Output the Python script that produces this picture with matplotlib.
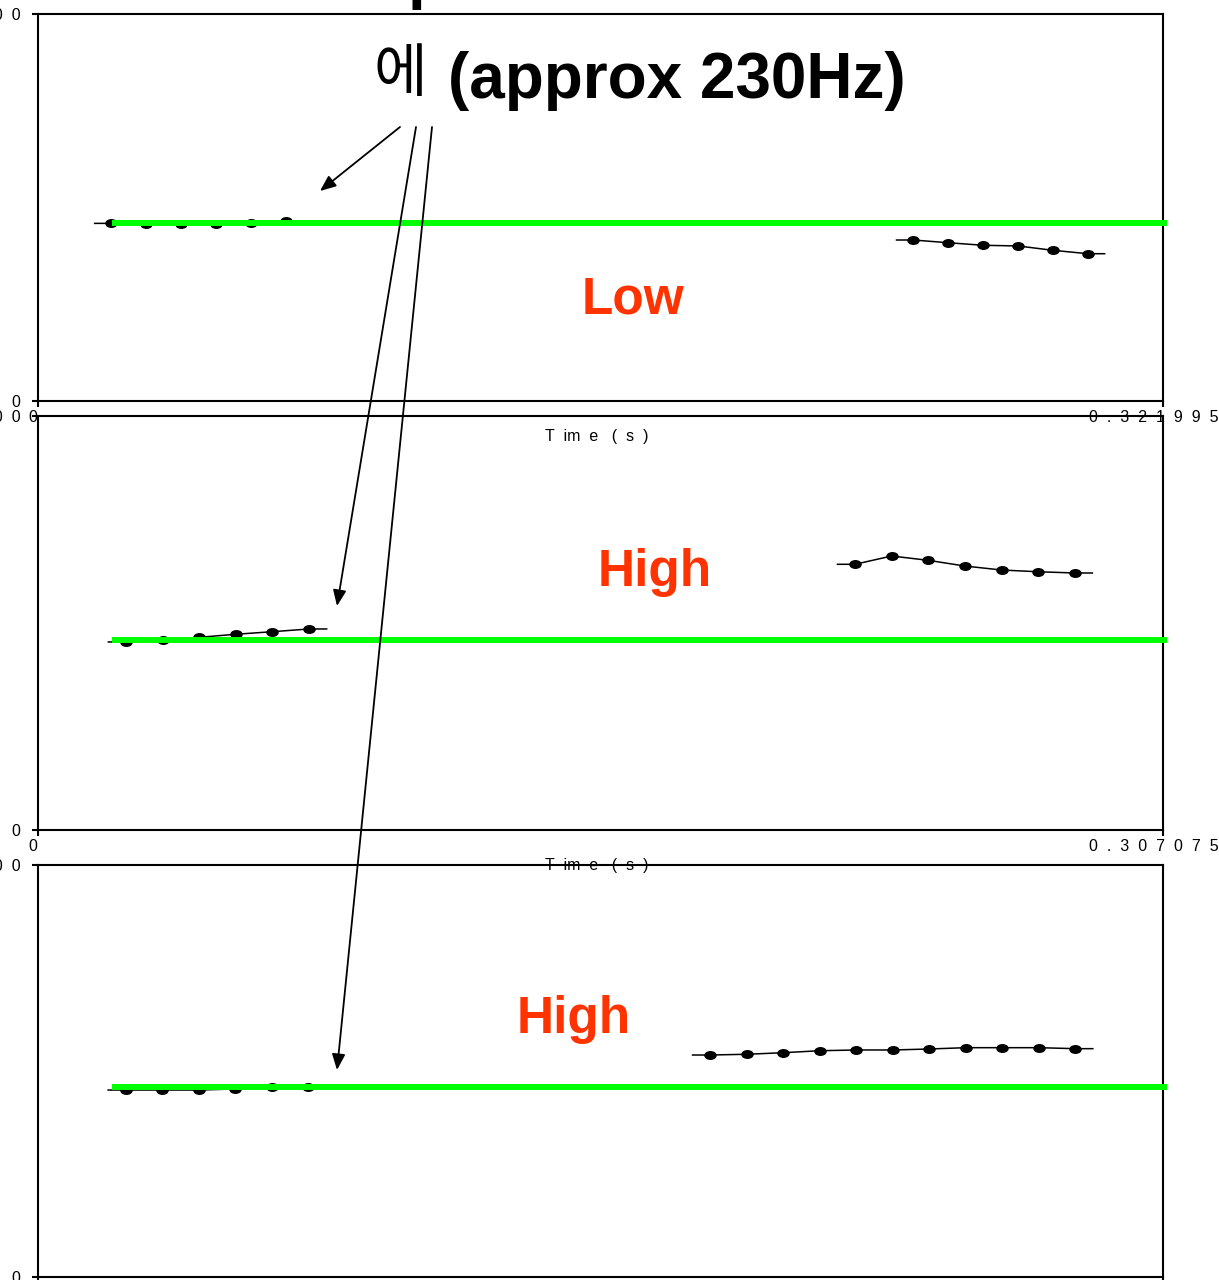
import matplotlib
matplotlib.use("Agg")
import matplotlib.pyplot as plt
from matplotlib.path import Path
from matplotlib.transforms import Affine2D, blended_transform_factory

# ---------------- data ----------------
PANEL_XMAX = [0.321995, 0.307075, 0.308]
PANEL_XMAX_LABELS = ["0.321995", "0.307075", "0.308"]
Y_MIN, Y_MAX = 0, 500
REFERENCE_HZ = 230
PANEL_TAGS = ["Low", "High", "High"]

P1_LEFT_T = [0.021, 0.031, 0.041, 0.051, 0.061, 0.071]
P1_LEFT_F = [229.5, 229.3, 229.3, 229.3, 229.5, 232.5]
P1_RIGHT_T = [0.2505, 0.2605, 0.2705, 0.2805, 0.2905, 0.3005]
P1_RIGHT_F = [208.0, 204.5, 201.2, 200.3, 194.7, 190.3]

P2_LEFT_T = [0.024, 0.034, 0.044, 0.054, 0.064, 0.074]
P2_LEFT_F = [227.1, 228.9, 232.7, 236.4, 239.5, 242.8]
P2_RIGHT_T = [0.223, 0.233, 0.243, 0.253, 0.263, 0.273, 0.283]
P2_RIGHT_F = [320.9, 330.9, 325.7, 318.8, 314.0, 311.9, 310.4]

P3_LEFT_T = [0.024, 0.034, 0.044, 0.054, 0.064, 0.074]
P3_LEFT_F = [226.9, 226.9, 226.9, 228.2, 230.8, 230.8]
P3_RIGHT_T = [0.184, 0.194, 0.204, 0.214, 0.224, 0.234, 0.244, 0.254, 0.264, 0.274, 0.284]
P3_RIGHT_F = [269.4, 270.3, 272.2, 274.6, 275.5, 275.5, 276.7, 278.3, 278.3, 278.3, 277.1]

SEGMENTS = [
    [(P1_LEFT_T, P1_LEFT_F), (P1_RIGHT_T, P1_RIGHT_F)],
    [(P2_LEFT_T, P2_LEFT_F), (P2_RIGHT_T, P2_RIGHT_F)],
    [(P3_LEFT_T, P3_LEFT_F), (P3_RIGHT_T, P3_RIGHT_F)],
]

# ---------------- style / layout ----------------
W, H = 1219, 1280
LATIN = "Liberation Sans"
KOREAN = "Noto Sans CJK KR"
GREEN = "#00ff00"
RED = "#ff3300"
HALF_FRAME = 0.005
# panel pixel boxes: (left, top, right, bottom)
BOXES = [(38, 14, 1163, 401), (38, 416, 1163, 830), (38, 865, 1163, 1277)]
TAG_POS = [(0.529, 0.261), (0.548, 0.623), (0.476, 0.624)]

plt.rcParams["font.family"] = [LATIN, "DejaVu Sans"]

fig = plt.figure(figsize=(W / 100, H / 100), dpi=100)


def spaced(s):
    return "  ".join(list(s))


ellipse = Path.unit_circle().transformed(Affine2D().scale(1.0, 0.68))

for i, (l, t, r, b) in enumerate(BOXES):
    ax = fig.add_axes([l / W, (H - b) / H, (r - l) / W, (b - t) / H])
    ax.patch.set_facecolor("none")
    ax.set_xlim(0, PANEL_XMAX[i])
    ax.set_ylim(Y_MIN, Y_MAX)
    for s in ax.spines.values():
        s.set_linewidth(1.5)
    ax.set_xticks([0, PANEL_XMAX[i]])
    ax.set_xticklabels(["0  ", spaced(PANEL_XMAX_LABELS[i]) + "    "],
                       fontsize=11.5)
    ax.set_yticks([Y_MIN, Y_MAX])
    ax.set_yticklabels([spaced(str(Y_MIN)), spaced(str(Y_MAX))], fontsize=11.5)
    ax.tick_params(axis="both", direction="out", length=4.5, width=1.5)
    ax.tick_params(axis="x", pad=2)
    ax.tick_params(axis="y", pad=8)
    ax.set_xlabel("T  im  e   (  s  )", fontsize=11.5)
    ax.xaxis.set_label_coords(0.497, -28 / (b - t))

    # pitch contour segments
    for ts, fs in SEGMENTS[i]:
        lx = [ts[0] - HALF_FRAME] + list(ts) + [ts[-1] + HALF_FRAME]
        ly = [fs[0]] + list(fs) + [fs[-1]]
        ax.plot(lx, ly, color="black", lw=1.1, zorder=3, solid_capstyle="butt")
        ax.plot(ts, fs, linestyle="none", marker=ellipse, markersize=8,
                color="black", zorder=3)

    # reference level
    trans = blended_transform_factory(ax.transAxes, ax.transData)
    ax.plot([0.0658, 1.0036], [REFERENCE_HZ, REFERENCE_HZ], color=GREEN,
            lw=4.3, transform=trans, clip_on=False, zorder=4,
            solid_capstyle="butt")

    ax.text(TAG_POS[i][0], TAG_POS[i][1], PANEL_TAGS[i], transform=ax.transAxes,
            ha="center", va="center", fontsize=37, fontweight="bold",
            color=RED, family=LATIN, zorder=5)

# title text
fig.text(400 / W, (H - 74) / H, "에", fontsize=42, family=[KOREAN, "DejaVu Sans"],
         ha="center", va="center", color="black")
fig.text(448 / W, (H - 98) / H, "(approx 230Hz)", fontsize=46, fontweight="bold",
         family=LATIN, ha="left", va="baseline", color="black")
# clipped descender of a heading above the visible area
fig.text(408 / W, (H + 3) / H, "p", fontsize=46, fontweight="bold",
         family=LATIN, ha="left", va="baseline", color="black")

# arrows (figure pixel coordinates)
ARROWS = [((400, 127), (320, 191)), ((416, 127), (337, 606)), ((432, 127), (337, 1070))]
for (x0, y0), (x1, y1) in ARROWS:
    fig.add_artist(matplotlib.patches.FancyArrowPatch(
        (x0 / W, (H - y0) / H), (x1 / W, (H - y1) / H),
        transform=fig.transFigure,
        arrowstyle="-|>,head_length=0.6,head_width=0.25",
        mutation_scale=16, lw=1.3, color="black",
        shrinkA=0, shrinkB=0, zorder=10))

fig.savefig("out.png", dpi=100)
